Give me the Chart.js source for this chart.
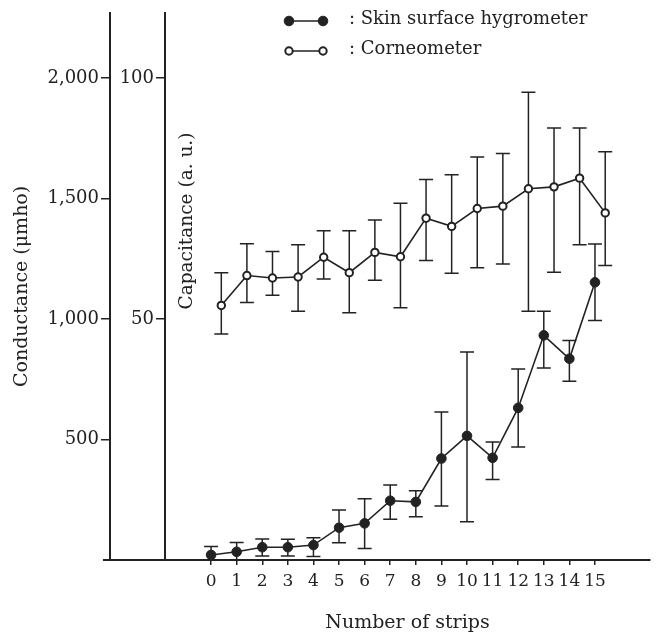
<!DOCTYPE html>
<html>
<head>
<meta charset="utf-8">
<script src="https://cdn.jsdelivr.net/npm/chart.js@4.4.1/dist/chart.umd.min.js"></script>
<style>
  body { margin: 0; background: #fff; }
  #wrap { width: 656px; height: 636px; }
</style>
</head>
<body>
<div id="wrap"><canvas id="chart" width="656" height="636"></canvas></div>
<script>
// number of tape strippings
const strips = [0, 1, 2, 3, 4, 5, 6, 7, 8, 9, 10, 11, 12, 13, 14, 15];

// skin surface hygrometer, conductance (umho): mean and error bar ends
const hygrometer     = [21, 34, 53, 53, 62, 134, 152, 246, 241, 421, 515, 424, 631, 932, 835, 1152];
const hygrometerHigh = [56, 73, 87, 86, 92, 207, 254, 311, 287, 614, 863, 490, 792, 1032, 911, 1311];
const hygrometerLow  = [0, 0, 17, 17, 15, 72, 48, 169, 179, 224, 159, 334, 469, 796, 742, 994];

// corneometer, capacitance (a.u.): mean and error bar ends
const corneometer     = [52.8, 59.0, 58.5, 58.7, 62.8, 59.6, 63.8, 62.9, 70.9, 69.2, 72.9, 73.4, 77.0, 77.4, 79.2, 72.0];
const corneometerHigh = [59.6, 65.6, 64.0, 65.4, 68.3, 68.3, 70.5, 74.0, 78.9, 79.9, 83.6, 84.3, 97.0, 89.6, 89.6, 84.7];
const corneometerLow  = [46.9, 53.4, 54.9, 51.6, 58.3, 51.3, 58.0, 52.3, 62.1, 59.5, 60.6, 61.4, 51.6, 59.7, 65.4, 61.1];

const conductanceTicks = [500, 1000, 1500, 2000];
const capacitanceTicks = [50, 100];

const ink = '#222';
const serif = "'DejaVu Serif', serif";

// error bars drawn under the markers
const errorBars = {
  id: 'errorBars',
  beforeDatasetsDraw(chart) {
    const ctx = chart.ctx;
    const area = chart.chartArea;
    ctx.save();
    ctx.beginPath();
    ctx.rect(area.left, area.top, area.right - area.left, area.bottom - area.top);
    ctx.clip();
    ctx.strokeStyle = ink;
    ctx.lineWidth = 1.5;
    chart.data.datasets.forEach((ds, i) => {
      const meta = chart.getDatasetMeta(i);
      const yScale = chart.scales[ds.yAxisID];
      meta.data.forEach((pt, j) => {
        const top = yScale.getPixelForValue(ds.errHigh[j]);
        const bottom = yScale.getPixelForValue(ds.errLow[j]);
        const half = 7;
        ctx.beginPath();
        ctx.moveTo(pt.x, top); ctx.lineTo(pt.x, bottom);
        ctx.moveTo(pt.x - half, top); ctx.lineTo(pt.x + half, top);
        ctx.moveTo(pt.x - half, bottom); ctx.lineTo(pt.x + half, bottom);
        ctx.stroke();
      });
    });
    ctx.restore();
  }
};

// legend, inner axis title and the baseline running under both y axes
const decorations = {
  id: 'decorations',
  afterDraw(chart) {
    const ctx = chart.ctx;
    const area = chart.chartArea;
    const y0 = chart.scales.y.getPixelForValue(0);
    ctx.save();
    ctx.strokeStyle = ink;
    ctx.lineWidth = 2;
    ctx.beginPath();
    ctx.moveTo(chart.scales.y.right - 7, y0);
    ctx.lineTo(area.left, y0);
    ctx.stroke();

    ctx.fillStyle = ink;
    ctx.font = '18.5px ' + serif;
    ctx.textAlign = 'center';
    ctx.textBaseline = 'middle';
    ctx.translate(area.left + 22, 221);
    ctx.rotate(-Math.PI / 2);
    ctx.fillText('Capacitance (a. u.)', 0, 0);
    ctx.restore();

    const rows = [21, 51];
    chart.data.datasets.forEach((ds, i) => {
      const y = rows[i];
      ctx.save();
      ctx.strokeStyle = ink;
      ctx.lineWidth = 1.5;
      ctx.beginPath();
      ctx.moveTo(289, y); ctx.lineTo(323, y);
      ctx.stroke();
      [289, 323].forEach(x => {
        ctx.beginPath();
        ctx.arc(x, y, ds.pointRadius, 0, Math.PI * 2);
        ctx.fillStyle = ds.pointBackgroundColor;
        ctx.fill();
        ctx.lineWidth = ds.pointBorderWidth;
        ctx.strokeStyle = ds.pointBorderColor;
        ctx.stroke();
      });
      ctx.fillStyle = ink;
      ctx.font = '18px ' + serif;
      ctx.textAlign = 'left';
      ctx.textBaseline = 'middle';
      ctx.fillText(': ' + ds.label, 349, y - 2);
      ctx.restore();
    });
  }
};

new Chart(document.getElementById('chart'), {
  type: 'line',
  data: {
    datasets: [
      {
        label: 'Skin surface hygrometer',
        data: strips.map((s, i) => ({ x: s, y: hygrometer[i] })),
        errHigh: hygrometerHigh,
        errLow: hygrometerLow,
        xAxisID: 'x',
        yAxisID: 'y',
        borderColor: ink,
        borderWidth: 1.6,
        pointRadius: 4.8,
        pointBackgroundColor: ink,
        pointBorderColor: ink,
        pointBorderWidth: 1,
        tension: 0
      },
      {
        label: 'Corneometer',
        data: strips.map((s, i) => ({ x: s, y: corneometer[i] })),
        errHigh: corneometerHigh,
        errLow: corneometerLow,
        xAxisID: 'x2',
        yAxisID: 'y2',
        borderColor: ink,
        borderWidth: 1.6,
        pointRadius: 3.7,
        pointBackgroundColor: '#fff',
        pointBorderColor: ink,
        pointBorderWidth: 2,
        tension: 0
      }
    ]
  },
  options: {
    responsive: false,
    animation: false,
    devicePixelRatio: 1,
    layout: { padding: { top: 12, right: 4, left: 0, bottom: 0 } },
    plugins: { legend: { display: false }, tooltip: { enabled: false } },
    scales: {
      x: {
        type: 'linear',
        min: -1.8,
        max: 17.15,
        afterBuildTicks: s => { s.ticks = strips.map(v => ({ value: v })); },
        afterFit: s => { s.height = 76; },
        ticks: {
          autoSkip: false,
          maxRotation: 0,
          padding: 6,
          color: ink,
          font: { family: serif, size: 17 },
          callback: v => String(v)
        },
        grid: { drawOnChartArea: false, color: ink, lineWidth: 1.5, tickLength: 5 },
        border: { display: true, color: ink, width: 2 },
        title: {
          display: true,
          text: 'Number of strips',
          color: ink,
          font: { family: serif, size: 19 },
          padding: { top: 0, bottom: 2 }
        }
      },
      // corneometer points sit a little right of the strip ticks in the original
      x2: {
        type: 'linear',
        display: false,
        min: -1.8 - 0.4,
        max: 17.15 - 0.4
      },
      y: {
        position: 'left',
        weight: 1,
        min: 0,
        max: 2270,
        afterBuildTicks: s => { s.ticks = conductanceTicks.map(v => ({ value: v })); },
        afterFit: s => { s.width = 110; },
        ticks: {
          padding: 2,
          color: ink,
          font: { family: serif, size: 18 },
          callback: v => v.toLocaleString('en-US')
        },
        grid: { drawOnChartArea: false, color: ink, lineWidth: 1.5, tickLength: 9 },
        border: { display: true, color: ink, width: 2 },
        title: {
          display: true,
          text: 'Conductance (μmho)',
          color: ink,
          font: { family: serif, size: 19 },
          padding: { top: 11, bottom: 0 }
        }
      },
      y2: {
        position: 'left',
        weight: 0,
        min: 0,
        max: 113.5,
        afterBuildTicks: s => { s.ticks = capacitanceTicks.map(v => ({ value: v })); },
        afterFit: s => { s.width = 55; },
        ticks: {
          padding: 2,
          color: ink,
          font: { family: serif, size: 18 },
          callback: v => String(v)
        },
        grid: { drawOnChartArea: false, color: ink, lineWidth: 1.5, tickLength: 9 },
        border: { display: true, color: ink, width: 2 }
      }
    }
  },
  plugins: [errorBars, decorations]
});
</script>
</body>
</html>
